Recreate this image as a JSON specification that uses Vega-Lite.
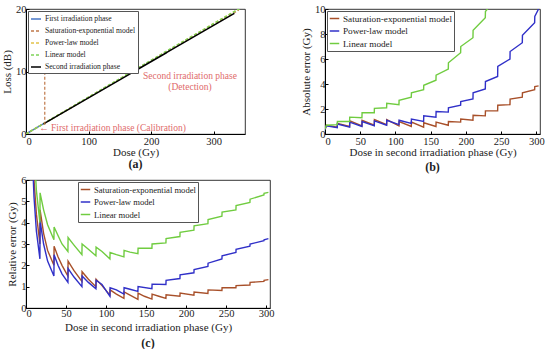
{
  "$schema": "https://vega.github.io/schema/vega-lite/v6.json",
  "padding": {"left": 1, "top": 3, "right": 0, "bottom": 0},
  "background": "white",
  "config": {
    "font": "Liberation Serif",
    "view": {"stroke": "#000", "strokeWidth": 0.8},
    "axis": {
      "labelFont": "Liberation Serif", "labelFontSize": 10.5, "labelColor": "#222",
      "titleFont": "Liberation Serif", "titleFontSize": 11, "titleFontWeight": "normal", "titleColor": "#222",
      "domainColor": "#000", "tickColor": "#000", "tickSize": -3, "labelPadding": 3, "titlePadding": 3, "grid": false
    },
    "legend": {
      "labelFont": "Liberation Serif", "labelFontSize": 9.2, "labelColor": "#222",
      "strokeColor": "#555", "fillColor": "white", "padding": 2, "rowPadding": 1.5,
      "symbolType": "stroke", "symbolSize": 90, "symbolStrokeWidth": 1.5, "title": null, "labelLimit": 200, "labelOffset": 3
    },
    "title": {"font": "Liberation Serif", "fontSize": 12, "fontWeight": "bold", "color": "#222"}
  },
  "spacing": 1,
  "resolve": {"scale": {"color": "independent", "strokeDash": "independent"}, "legend": {"color": "independent", "strokeDash": "independent"}},
  "vconcat": [
    {
      "spacing": 54,
      "resolve": {"scale": {"color": "independent", "strokeDash": "independent"}, "legend": {"color": "independent", "strokeDash": "independent"}},
      "hconcat": [
        {
          "width": 219, "height": 125,
          "title": {"text": "(a)", "orient": "bottom", "offset": 1},
          "layer": [
            {
              "data": {"values": [
                {"dose": 0, "loss": 0, "s": "First irradiation phase"},
                {"dose": 30, "loss": 1.75, "s": "First irradiation phase"},
                {"dose": 0, "loss": 0, "s": "Saturation-exponential model"},
                {"dose": 170, "loss": 9.95, "s": "Saturation-exponential model"},
                {"dose": 340, "loss": 19.85, "s": "Saturation-exponential model"},
                {"dose": 0, "loss": 0, "s": "Power-law model"},
                {"dose": 170, "loss": 10.0, "s": "Power-law model"},
                {"dose": 343, "loss": 20.2, "s": "Power-law model"},
                {"dose": 0, "loss": 0, "s": "Linear model"},
                {"dose": 170, "loss": 10.05, "s": "Linear model"},
                {"dose": 345, "loss": 20.3, "s": "Linear model"},
                {"dose": 28, "loss": 1.62, "s": "Second irradiation phase"},
                {"dose": 170, "loss": 9.85, "s": "Second irradiation phase"},
                {"dose": 333, "loss": 19.3, "s": "Second irradiation phase"}
              ]},
              "mark": {"type": "line", "strokeWidth": 1.5, "clip": true},
              "encoding": {
                "x": {"field": "dose", "type": "quantitative", "scale": {"domain": [0, 350], "nice": false}, "axis": {"values": [0, 50, 100, 150, 200, 250, 300, 350], "title": "Dose (Gy)", "labelPadding": 5, "titlePadding": 0}},
                "y": {"field": "loss", "type": "quantitative", "scale": {"domain": [0, 20], "nice": false}, "axis": {"values": [0, 5, 10, 15, 20], "title": "Loss (dB)"}},
                "color": {"field": "s", "type": "nominal",
                  "scale": {"domain": ["First irradiation phase", "Saturation-exponential model", "Power-law model", "Linear model", "Second irradiation phase"], "range": ["#4a78c8", "#c0784a", "#e2c24a", "#7fd35a", "#000000"]},
                  "legend": {"orient": "top-left", "offset": 2, "labelFontSize": 7.6, "rowPadding": 2, "symbolSize": 100, "padding": 2}},
                "strokeDash": {"field": "s", "type": "nominal",
                  "scale": {"domain": ["First irradiation phase", "Saturation-exponential model", "Power-law model", "Linear model", "Second irradiation phase"], "range": [[1, 0], [3, 2], [3, 2], [3, 2], [1, 0]]},
                  "legend": {"orient": "top-left", "offset": 2, "labelFontSize": 7.6, "rowPadding": 2, "symbolSize": 100, "padding": 2}},
                "order": {"field": "s", "sort": "ascending"}
              }
            },
            {
              "data": {"values": [{"dose": 30, "lo": 1.5, "hi": 18.5}]},
              "mark": {"type": "rule", "color": "#c0784a", "strokeDash": [3, 2], "strokeWidth": 1.2},
              "encoding": {"x": {"field": "dose", "type": "quantitative"}, "y": {"field": "lo", "type": "quantitative"}, "y2": {"field": "hi"}}
            },
            {
              "data": {"values": [
                {"dose": 262, "loss": 9.35, "t": "Second irradiation phase"},
                {"dose": 262, "loss": 7.5, "t": "(Detection)"}
              ]},
              "mark": {"type": "text", "color": "#e06a6a", "fontSize": 9.5, "font": "Liberation Serif", "align": "center", "baseline": "middle"},
              "encoding": {"x": {"field": "dose", "type": "quantitative"}, "y": {"field": "loss", "type": "quantitative"}, "text": {"field": "t"}}
            },
            {
              "data": {"values": [{"dose": 21, "loss": 0.9, "t": "\u2190  First irradiation phase (Calibration)"}]},
              "mark": {"type": "text", "color": "#e06a6a", "fontSize": 9.5, "font": "Liberation Serif", "align": "left", "baseline": "middle"},
              "encoding": {"x": {"field": "dose", "type": "quantitative"}, "y": {"field": "loss", "type": "quantitative"}, "text": {"field": "t"}}
            }
          ]
        },
        {
          "width": 215, "height": 125,
          "title": {"text": "(b)", "orient": "bottom", "offset": 4},
          "data": {"values": [
            {"d": 0, "v": 0.35, "m": "Saturation-exponential model"}, {"d": 2, "v": 0.7, "m": "Saturation-exponential model"}, {"d": 17.4, "v": 0.55, "m": "Saturation-exponential model"},
            {"d": 17.6, "v": 0.85, "m": "Saturation-exponential model"}, {"d": 34.9, "v": 0.6, "m": "Saturation-exponential model"},
            {"d": 35.1, "v": 1.05, "m": "Saturation-exponential model"}, {"d": 52.4, "v": 0.65, "m": "Saturation-exponential model"},
            {"d": 52.6, "v": 1.1, "m": "Saturation-exponential model"}, {"d": 69.9, "v": 0.7, "m": "Saturation-exponential model"},
            {"d": 70.1, "v": 1.15, "m": "Saturation-exponential model"}, {"d": 87.4, "v": 0.75, "m": "Saturation-exponential model"},
            {"d": 87.6, "v": 1.15, "m": "Saturation-exponential model"}, {"d": 104.9, "v": 0.65, "m": "Saturation-exponential model"},
            {"d": 105.1, "v": 1.0, "m": "Saturation-exponential model"}, {"d": 122.4, "v": 0.6, "m": "Saturation-exponential model"},
            {"d": 122.6, "v": 0.95, "m": "Saturation-exponential model"}, {"d": 139.9, "v": 0.55, "m": "Saturation-exponential model"},
            {"d": 140.1, "v": 0.9, "m": "Saturation-exponential model"}, {"d": 157.4, "v": 0.6, "m": "Saturation-exponential model"},
            {"d": 157.6, "v": 0.95, "m": "Saturation-exponential model"}, {"d": 174.9, "v": 0.7, "m": "Saturation-exponential model"},
            {"d": 175.1, "v": 1.0, "m": "Saturation-exponential model"}, {"d": 192.4, "v": 0.95, "m": "Saturation-exponential model"},
            {"d": 192.6, "v": 1.2, "m": "Saturation-exponential model"}, {"d": 209.9, "v": 1.1, "m": "Saturation-exponential model"},
            {"d": 210.1, "v": 1.5, "m": "Saturation-exponential model"}, {"d": 227.4, "v": 1.45, "m": "Saturation-exponential model"},
            {"d": 227.6, "v": 1.85, "m": "Saturation-exponential model"}, {"d": 244.9, "v": 1.85, "m": "Saturation-exponential model"},
            {"d": 245.1, "v": 2.3, "m": "Saturation-exponential model"}, {"d": 262.4, "v": 2.35, "m": "Saturation-exponential model"},
            {"d": 262.6, "v": 2.8, "m": "Saturation-exponential model"}, {"d": 279.9, "v": 2.95, "m": "Saturation-exponential model"},
            {"d": 280.1, "v": 3.3, "m": "Saturation-exponential model"}, {"d": 297.4, "v": 3.55, "m": "Saturation-exponential model"},
            {"d": 297.6, "v": 3.8, "m": "Saturation-exponential model"}, {"d": 303, "v": 3.85, "m": "Saturation-exponential model"},

            {"d": 0, "v": 0.35, "m": "Power-law model"}, {"d": 2, "v": 0.65, "m": "Power-law model"}, {"d": 17.4, "v": 0.5, "m": "Power-law model"},
            {"d": 17.6, "v": 0.8, "m": "Power-law model"}, {"d": 34.9, "v": 0.55, "m": "Power-law model"},
            {"d": 35.1, "v": 0.95, "m": "Power-law model"}, {"d": 52.4, "v": 0.6, "m": "Power-law model"},
            {"d": 52.6, "v": 1.0, "m": "Power-law model"}, {"d": 69.9, "v": 0.65, "m": "Power-law model"},
            {"d": 70.1, "v": 1.05, "m": "Power-law model"}, {"d": 87.4, "v": 0.7, "m": "Power-law model"},
            {"d": 87.6, "v": 1.1, "m": "Power-law model"}, {"d": 104.9, "v": 0.75, "m": "Power-law model"},
            {"d": 105.1, "v": 1.1, "m": "Power-law model"}, {"d": 122.4, "v": 0.85, "m": "Power-law model"},
            {"d": 122.6, "v": 1.2, "m": "Power-law model"}, {"d": 139.9, "v": 1.0, "m": "Power-law model"},
            {"d": 140.1, "v": 1.45, "m": "Power-law model"}, {"d": 157.4, "v": 1.35, "m": "Power-law model"},
            {"d": 157.6, "v": 1.8, "m": "Power-law model"}, {"d": 174.9, "v": 1.75, "m": "Power-law model"},
            {"d": 175.1, "v": 2.1, "m": "Power-law model"}, {"d": 192.4, "v": 2.3, "m": "Power-law model"},
            {"d": 192.6, "v": 2.6, "m": "Power-law model"}, {"d": 209.9, "v": 2.8, "m": "Power-law model"},
            {"d": 210.1, "v": 3.3, "m": "Power-law model"}, {"d": 227.4, "v": 3.6, "m": "Power-law model"},
            {"d": 227.6, "v": 4.2, "m": "Power-law model"}, {"d": 244.9, "v": 4.6, "m": "Power-law model"},
            {"d": 245.1, "v": 5.4, "m": "Power-law model"}, {"d": 262.4, "v": 6.0, "m": "Power-law model"},
            {"d": 262.6, "v": 6.6, "m": "Power-law model"}, {"d": 279.9, "v": 7.3, "m": "Power-law model"},
            {"d": 280.1, "v": 7.9, "m": "Power-law model"}, {"d": 297.4, "v": 8.9, "m": "Power-law model"},
            {"d": 297.6, "v": 9.4, "m": "Power-law model"}, {"d": 303, "v": 10.0, "m": "Power-law model"},

            {"d": 0, "v": 0.4, "m": "Linear model"}, {"d": 2, "v": 0.7, "m": "Linear model"}, {"d": 17.4, "v": 0.75, "m": "Linear model"},
            {"d": 17.6, "v": 1.0, "m": "Linear model"}, {"d": 34.9, "v": 1.0, "m": "Linear model"},
            {"d": 35.1, "v": 1.35, "m": "Linear model"}, {"d": 52.4, "v": 1.3, "m": "Linear model"},
            {"d": 52.6, "v": 1.7, "m": "Linear model"}, {"d": 69.9, "v": 1.7, "m": "Linear model"},
            {"d": 70.1, "v": 2.05, "m": "Linear model"}, {"d": 87.4, "v": 2.1, "m": "Linear model"},
            {"d": 87.6, "v": 2.45, "m": "Linear model"}, {"d": 104.9, "v": 2.35, "m": "Linear model"},
            {"d": 105.1, "v": 2.7, "m": "Linear model"}, {"d": 122.4, "v": 2.95, "m": "Linear model"},
            {"d": 122.6, "v": 3.3, "m": "Linear model"}, {"d": 139.9, "v": 3.55, "m": "Linear model"},
            {"d": 140.1, "v": 3.9, "m": "Linear model"}, {"d": 157.4, "v": 4.3, "m": "Linear model"},
            {"d": 157.6, "v": 4.7, "m": "Linear model"}, {"d": 174.9, "v": 5.2, "m": "Linear model"},
            {"d": 175.1, "v": 5.7, "m": "Linear model"}, {"d": 192.4, "v": 6.5, "m": "Linear model"},
            {"d": 192.6, "v": 7.0, "m": "Linear model"}, {"d": 209.9, "v": 7.7, "m": "Linear model"},
            {"d": 210.1, "v": 8.3, "m": "Linear model"}, {"d": 227.4, "v": 9.3, "m": "Linear model"},
            {"d": 227.6, "v": 9.8, "m": "Linear model"}, {"d": 245, "v": 11.0, "m": "Linear model"}
          ]},
          "mark": {"type": "line", "strokeWidth": 1.4, "clip": true},
          "encoding": {
            "x": {"field": "d", "type": "quantitative", "scale": {"domain": [0, 305], "nice": false}, "axis": {"values": [0, 50, 100, 150, 200, 250, 300], "title": "Dose in second irradiation phase (Gy)", "labelPadding": 5, "titlePadding": 0}},
            "y": {"field": "v", "type": "quantitative", "scale": {"domain": [0, 10], "nice": false}, "axis": {"values": [0, 2, 4, 6, 8, 10], "title": "Absolute error (Gy)"}},
            "color": {"field": "m", "type": "nominal", "scale": {"domain": ["Saturation-exponential model", "Power-law model", "Linear model"], "range": ["#a8502a", "#3030c8", "#70cc40"]}, "legend": {"orient": "top-left", "offset": 2}}
          }
        }
      ]
    },
    {
      "width": 244, "height": 128,
      "title": {"text": "(c)", "orient": "bottom", "offset": 5},
      "data": {"values": [
        {"d": 6, "v": 9, "m": "Saturation-exponential model"}, {"d": 10, "v": 6.0, "m": "Saturation-exponential model"}, {"d": 13, "v": 4.4, "m": "Saturation-exponential model"}, {"d": 17.4, "v": 3.0, "m": "Saturation-exponential model"},
        {"d": 17.6, "v": 4.6, "m": "Saturation-exponential model"}, {"d": 22, "v": 3.5, "m": "Saturation-exponential model"}, {"d": 27, "v": 2.7, "m": "Saturation-exponential model"}, {"d": 34.9, "v": 2.0, "m": "Saturation-exponential model"},
        {"d": 35.1, "v": 2.9, "m": "Saturation-exponential model"}, {"d": 40, "v": 2.4, "m": "Saturation-exponential model"}, {"d": 45, "v": 2.0, "m": "Saturation-exponential model"}, {"d": 52.4, "v": 1.5, "m": "Saturation-exponential model"},
        {"d": 52.6, "v": 2.2, "m": "Saturation-exponential model"}, {"d": 60, "v": 1.75, "m": "Saturation-exponential model"}, {"d": 69.9, "v": 1.25, "m": "Saturation-exponential model"},
        {"d": 70.1, "v": 1.7, "m": "Saturation-exponential model"}, {"d": 78, "v": 1.35, "m": "Saturation-exponential model"}, {"d": 87.4, "v": 1.0, "m": "Saturation-exponential model"},
        {"d": 87.6, "v": 1.35, "m": "Saturation-exponential model"}, {"d": 95, "v": 1.05, "m": "Saturation-exponential model"}, {"d": 104.9, "v": 0.6, "m": "Saturation-exponential model"},
        {"d": 105.1, "v": 0.85, "m": "Saturation-exponential model"}, {"d": 113, "v": 0.65, "m": "Saturation-exponential model"}, {"d": 122.4, "v": 0.45, "m": "Saturation-exponential model"},
        {"d": 122.6, "v": 0.75, "m": "Saturation-exponential model"}, {"d": 130, "v": 0.6, "m": "Saturation-exponential model"}, {"d": 139.9, "v": 0.4, "m": "Saturation-exponential model"},
        {"d": 140.1, "v": 0.7, "m": "Saturation-exponential model"}, {"d": 148, "v": 0.55, "m": "Saturation-exponential model"}, {"d": 157.4, "v": 0.42, "m": "Saturation-exponential model"},
        {"d": 157.6, "v": 0.65, "m": "Saturation-exponential model"}, {"d": 166, "v": 0.55, "m": "Saturation-exponential model"}, {"d": 174.9, "v": 0.45, "m": "Saturation-exponential model"},
        {"d": 175.1, "v": 0.62, "m": "Saturation-exponential model"}, {"d": 192.4, "v": 0.55, "m": "Saturation-exponential model"},
        {"d": 192.6, "v": 0.7, "m": "Saturation-exponential model"}, {"d": 209.9, "v": 0.6, "m": "Saturation-exponential model"},
        {"d": 210.1, "v": 0.75, "m": "Saturation-exponential model"}, {"d": 227.4, "v": 0.68, "m": "Saturation-exponential model"},
        {"d": 227.6, "v": 0.85, "m": "Saturation-exponential model"}, {"d": 244.9, "v": 0.82, "m": "Saturation-exponential model"},
        {"d": 245.1, "v": 0.95, "m": "Saturation-exponential model"}, {"d": 262.4, "v": 0.95, "m": "Saturation-exponential model"},
        {"d": 262.6, "v": 1.05, "m": "Saturation-exponential model"}, {"d": 279.9, "v": 1.08, "m": "Saturation-exponential model"},
        {"d": 280.1, "v": 1.2, "m": "Saturation-exponential model"}, {"d": 297.4, "v": 1.25, "m": "Saturation-exponential model"},
        {"d": 297.6, "v": 1.3, "m": "Saturation-exponential model"}, {"d": 303, "v": 1.33, "m": "Saturation-exponential model"},

        {"d": 6, "v": 9, "m": "Power-law model"}, {"d": 10, "v": 5.2, "m": "Power-law model"}, {"d": 13, "v": 3.6, "m": "Power-law model"}, {"d": 17.4, "v": 2.3, "m": "Power-law model"},
        {"d": 17.6, "v": 4.1, "m": "Power-law model"}, {"d": 22, "v": 3.0, "m": "Power-law model"}, {"d": 27, "v": 2.2, "m": "Power-law model"}, {"d": 34.9, "v": 1.5, "m": "Power-law model"},
        {"d": 35.1, "v": 2.5, "m": "Power-law model"}, {"d": 40, "v": 2.0, "m": "Power-law model"}, {"d": 45, "v": 1.6, "m": "Power-law model"}, {"d": 52.4, "v": 1.2, "m": "Power-law model"},
        {"d": 52.6, "v": 1.85, "m": "Power-law model"}, {"d": 60, "v": 1.45, "m": "Power-law model"}, {"d": 69.9, "v": 1.0, "m": "Power-law model"},
        {"d": 70.1, "v": 1.5, "m": "Power-law model"}, {"d": 78, "v": 1.2, "m": "Power-law model"}, {"d": 87.4, "v": 0.9, "m": "Power-law model"},
        {"d": 87.6, "v": 1.3, "m": "Power-law model"}, {"d": 95, "v": 1.1, "m": "Power-law model"}, {"d": 104.9, "v": 0.55, "m": "Power-law model"},
        {"d": 105.1, "v": 0.95, "m": "Power-law model"}, {"d": 113, "v": 0.85, "m": "Power-law model"}, {"d": 122.4, "v": 0.65, "m": "Power-law model"},
        {"d": 122.6, "v": 0.95, "m": "Power-law model"}, {"d": 130, "v": 0.88, "m": "Power-law model"}, {"d": 139.9, "v": 0.78, "m": "Power-law model"},
        {"d": 140.1, "v": 1.0, "m": "Power-law model"}, {"d": 157.4, "v": 0.9, "m": "Power-law model"},
        {"d": 157.6, "v": 1.12, "m": "Power-law model"}, {"d": 174.9, "v": 1.1, "m": "Power-law model"},
        {"d": 175.1, "v": 1.3, "m": "Power-law model"}, {"d": 192.4, "v": 1.38, "m": "Power-law model"},
        {"d": 192.6, "v": 1.55, "m": "Power-law model"}, {"d": 209.9, "v": 1.65, "m": "Power-law model"},
        {"d": 210.1, "v": 1.8, "m": "Power-law model"}, {"d": 227.4, "v": 1.95, "m": "Power-law model"},
        {"d": 227.6, "v": 2.1, "m": "Power-law model"}, {"d": 244.9, "v": 2.3, "m": "Power-law model"},
        {"d": 245.1, "v": 2.45, "m": "Power-law model"}, {"d": 262.4, "v": 2.6, "m": "Power-law model"},
        {"d": 262.6, "v": 2.75, "m": "Power-law model"}, {"d": 279.9, "v": 2.9, "m": "Power-law model"},
        {"d": 280.1, "v": 3.0, "m": "Power-law model"}, {"d": 297.4, "v": 3.15, "m": "Power-law model"},
        {"d": 297.6, "v": 3.2, "m": "Power-law model"}, {"d": 303, "v": 3.25, "m": "Power-law model"},

        {"d": 6, "v": 12, "m": "Linear model"}, {"d": 10, "v": 7.5, "m": "Linear model"}, {"d": 13, "v": 5.5, "m": "Linear model"}, {"d": 17.4, "v": 4.0, "m": "Linear model"},
        {"d": 17.6, "v": 5.4, "m": "Linear model"}, {"d": 22, "v": 4.6, "m": "Linear model"}, {"d": 27, "v": 3.9, "m": "Linear model"}, {"d": 34.9, "v": 3.2, "m": "Linear model"},
        {"d": 35.1, "v": 3.8, "m": "Linear model"}, {"d": 40, "v": 3.4, "m": "Linear model"}, {"d": 45, "v": 3.0, "m": "Linear model"}, {"d": 52.4, "v": 2.65, "m": "Linear model"},
        {"d": 52.6, "v": 3.3, "m": "Linear model"}, {"d": 60, "v": 2.95, "m": "Linear model"}, {"d": 69.9, "v": 2.5, "m": "Linear model"},
        {"d": 70.1, "v": 3.0, "m": "Linear model"}, {"d": 78, "v": 2.75, "m": "Linear model"}, {"d": 87.4, "v": 2.45, "m": "Linear model"},
        {"d": 87.6, "v": 2.85, "m": "Linear model"}, {"d": 95, "v": 2.65, "m": "Linear model"}, {"d": 104.9, "v": 2.3, "m": "Linear model"},
        {"d": 105.1, "v": 2.6, "m": "Linear model"}, {"d": 113, "v": 2.5, "m": "Linear model"}, {"d": 122.4, "v": 2.4, "m": "Linear model"},
        {"d": 122.6, "v": 2.7, "m": "Linear model"}, {"d": 130, "v": 2.62, "m": "Linear model"}, {"d": 139.9, "v": 2.55, "m": "Linear model"},
        {"d": 140.1, "v": 2.8, "m": "Linear model"}, {"d": 157.4, "v": 2.8, "m": "Linear model"},
        {"d": 157.6, "v": 3.0, "m": "Linear model"}, {"d": 174.9, "v": 3.05, "m": "Linear model"},
        {"d": 175.1, "v": 3.25, "m": "Linear model"}, {"d": 192.4, "v": 3.35, "m": "Linear model"},
        {"d": 192.6, "v": 3.55, "m": "Linear model"}, {"d": 209.9, "v": 3.65, "m": "Linear model"},
        {"d": 210.1, "v": 3.85, "m": "Linear model"}, {"d": 227.4, "v": 3.95, "m": "Linear model"},
        {"d": 227.6, "v": 4.15, "m": "Linear model"}, {"d": 244.9, "v": 4.3, "m": "Linear model"},
        {"d": 245.1, "v": 4.5, "m": "Linear model"}, {"d": 262.4, "v": 4.6, "m": "Linear model"},
        {"d": 262.6, "v": 4.8, "m": "Linear model"}, {"d": 279.9, "v": 4.95, "m": "Linear model"},
        {"d": 280.1, "v": 5.1, "m": "Linear model"}, {"d": 297.4, "v": 5.3, "m": "Linear model"},
        {"d": 297.6, "v": 5.38, "m": "Linear model"}, {"d": 303, "v": 5.42, "m": "Linear model"}
      ]},
      "mark": {"type": "line", "strokeWidth": 1.4, "clip": true},
      "encoding": {
        "x": {"field": "d", "type": "quantitative", "scale": {"domain": [0, 305], "nice": false}, "axis": {"values": [0, 50, 100, 150, 200, 250, 300], "title": "Dose in second irradiation phase (Gy)"}},
        "y": {"field": "v", "type": "quantitative", "scale": {"domain": [0, 6], "nice": false}, "axis": {"values": [0, 1, 2, 3, 4, 5, 6], "title": "Relative error (Gy)"}},
        "color": {"field": "m", "type": "nominal", "scale": {"domain": ["Saturation-exponential model", "Power-law model", "Linear model"], "range": ["#a8502a", "#3030c8", "#70cc40"]}, "legend": {"orient": "none", "legendX": 52, "legendY": 2, "labelFontSize": 8.6}}
      }
    }
  ]
}
